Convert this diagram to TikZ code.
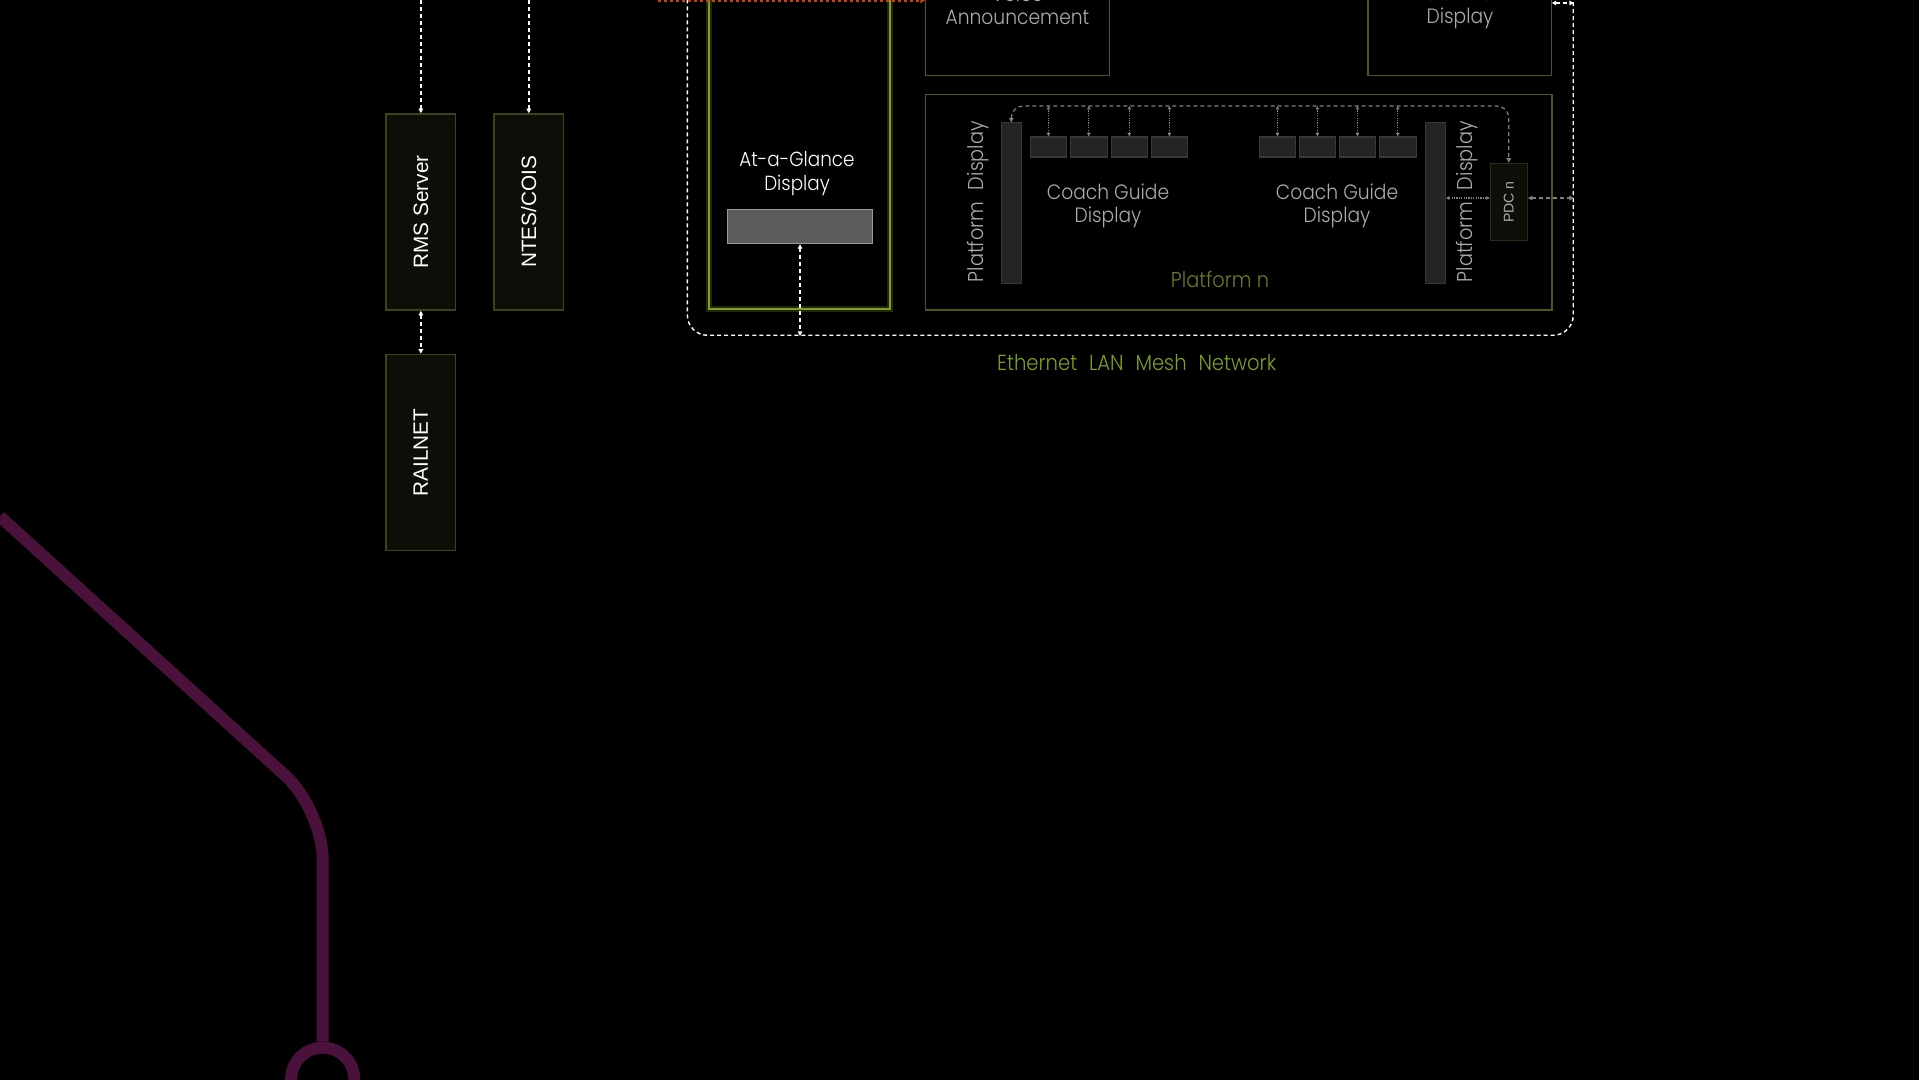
\documentclass[tikz,border=0pt]{standalone}
\usepackage{fontspec}
\setmainfont{Poppins}[UprightFont=* Light, FakeStretch=0.9]
\newfontfamily\boxfont{Liberation Sans}
\newfontfamily\widefont{Poppins}[UprightFont=* Light, FakeStretch=0.9, WordSpace=2.2]
\usetikzlibrary{arrows.meta,positioning}

\definecolor{sysfill}{RGB}{13,14,8}
\definecolor{sysedge}{RGB}{58,69,18}
\definecolor{paneledge}{RGB}{74,92,20}
\definecolor{glance}{RGB}{128,160,35}
\definecolor{labelgray}{RGB}{172,172,172}
\definecolor{platgreen}{RGB}{107,125,31}
\definecolor{langreen}{RGB}{125,160,32}
\definecolor{metro}{RGB}{74,18,58}
\definecolor{feedorange}{RGB}{200,64,16}

\tikzset{
  tip/.tip={Triangle[length=0.045cm,width=0.045cm]},
  smalltip/.tip={Triangle[length=0.035cm,width=0.035cm]},
  sysbox/.style={draw=sysedge, fill=sysfill, line width=0.4pt, inner sep=0pt,
    minimum width=0.697cm, minimum height=1.96cm, text=white,
    font=\boxfont\fontsize{5.9}{7}\selectfont},
  panel/.style={draw=paneledge, line width=0.4pt, inner sep=0pt},
  glancebox/.style={draw=glance, line width=0.6pt, inner sep=0pt,
    preaction={draw=glance, opacity=0.25, line width=1.8pt}},
  agbar/.style={draw=gray!80, fill=black!64, line width=0.3pt, inner sep=0pt,
    minimum width=1.454cm, minimum height=0.344cm},
  pdbar/.style={draw=black!78, fill=black!86, line width=0.3pt, inner sep=0pt,
    minimum width=0.2cm, minimum height=1.603cm},
  cgbox/.style={draw=black!78, fill=black!86, line width=0.3pt, inner sep=0pt,
    minimum width=0.365cm, minimum height=0.2cm},
  pdcbox/.style={draw=sysedge!70!black, fill=sysfill, line width=0.3pt, inner sep=0pt,
    minimum width=0.37cm, minimum height=0.774cm, text=labelgray,
    font=\boxfont\fontsize{4}{4.5}\selectfont},
  whitelabel/.style={text=white, align=center, inner sep=0pt,
    font=\fontsize{5.8}{6.6}\selectfont},
  graylabel/.style={text=labelgray, align=center, inner sep=0pt,
    font=\fontsize{5.9}{6.6}\selectfont},
  widelabel/.style={text=labelgray, inner sep=0pt,
    font=\widefont\fontsize{6.1}{6.6}\selectfont},
  lan/.style={draw=white, line width=0.4pt, dash pattern=on 0.04cm off 0.03cm,
    rounded corners=0.2cm, inner sep=0pt},
  wire/.style={draw=white, line width=0.4pt, dash pattern=on 0.04cm off 0.03cm, tip-tip},
  feed/.style={draw=feedorange, line width=0.5pt, dash pattern=on 0.03cm off 0.03cm, -tip},
  bus/.style={draw=gray, line width=0.35pt, dash pattern=on 0.04cm off 0.03cm, tip-tip},
  cglink/.style={draw=gray, line width=0.35pt, dash pattern=on 0.012cm off 0.012cm,
    smalltip-smalltip},
  metroline/.style={draw=metro, line width=3.4pt, rounded corners=0.5cm},
  metrostop/.style={circle, draw=metro, line width=3.4pt, minimum size=0.63cm, inner sep=0pt}
}

\begin{document}
\begin{tikzpicture}[x=0.01cm,y=-0.01cm]
  \fill[black] (0,0) rectangle (1919,1080);
  \useasboundingbox (0,0) rectangle (1919,1080);
  \clip (0,0) rectangle (1919,1080);

  %metro line
  \node[metrostop] (stop) at (322.7,1079.2) {};
  \draw[metroline] (0,516.5) -- (322.7,809.6) -- (stop.north);

  %back end servers
  \node[sysbox] (rms) at (420.85,212) {\rotatebox{90}{RMS Server}};
  \node[sysbox] (ntes) at (528.8,212) {\rotatebox{90}{NTES/COIS}};
  \node[sysbox] (railnet) at (420.85,452.5) {\rotatebox{90}{RAILNET}};
  \coordinate (rmsin) at (420.85,-20);
  \coordinate (ntesin) at (528.8,-20);
  \draw[wire, tip-] (rms.north) -- (rmsin);
  \draw[wire, tip-] (ntes.north) -- (ntesin);
  \draw[wire] (rms.south) -- (railnet.north);

  %mesh network
  \node[lan, minimum width=8.853cm, minimum height=3.96cm, anchor=south west]
    (lan) at (686.7,336) {};
  \node[text=langreen, inner sep=0pt, font=\widefont\fontsize{6.2}{7}\selectfont]
    (lantxt) at (1136.7,362.7) {Ethernet LAN Mesh Network};

  %at-a-glance display
  \node[glancebox, minimum width=1.807cm, minimum height=4.2cm, anchor=south]
    (glance) at (799.65,310) {};
  \node[whitelabel] (glancetxt) at (797,173.5) {At-a-Glance\\Display};
  \node[agbar] (agbar) at (800,226.5) {};
  \draw[wire] (agbar.south) -- (agbar.south |- lan.south);

  %voice and television
  \node[panel, minimum width=1.836cm, minimum height=2cm, anchor=south]
    (voice) at (1017.5,76) {};
  \node[graylabel] (voicetxt) at (1017.5,5) {Voice\\Announcement};
  \node[panel, minimum width=1.837cm, minimum height=2cm, anchor=south]
    (tv) at (1459.85,76) {};
  \node[graylabel] (tvtxt) at (1460,7) {Television\\Display};
  \coordinate (feedin) at (658,0.8);
  \draw[feed] (feedin) -- (voice.west |- feedin);
  \coordinate (tvport) at (1551.7,3);
  \draw[wire] (tvport) -- (tvport -| lan.east);

  %platform n
  \node[panel, minimum width=6.26cm, minimum height=2.155cm]
    (platform) at (1238.7,202.25) {};
  \node[pdbar] (lpd) at (1011.3,203.15) {};
  \node[pdbar] (rpd) at (1435.3,203.15) {};
  \node[widelabel, rotate=90] (lpdtxt) at (978.3,201.7) {Platform Display};
  \node[widelabel, rotate=90] (rpdtxt) at (1467.3,201.7) {Platform Display};
  \foreach \i/\x in {1/1048.5,2/1088.8,3/1129.3,4/1169.4,
                     5/1277.5,6/1317.4,7/1357.5,8/1397.8}
    \node[cgbox] (cg\i) at (\x,147) {};
  \node[graylabel] (cgtxtl) at (1108,205.5) {Coach Guide\\Display};
  \node[graylabel] (cgtxtr) at (1337,205.5) {Coach Guide\\Display};
  \node[pdcbox] (pdc) at (1508.8,202) {\rotatebox{90}{PDC n}};
  \node[text=platgreen, inner sep=0pt, font=\fontsize{6.1}{7}\selectfont]
    (plattxt) at (1220,279) {Platform n};
  \coordinate (bus) at (1200,106);
  \draw[bus, rounded corners=0.12cm] (lpd.north) -- (lpd.north |- bus)
    -- (pdc.north |- bus) -- (pdc.north);
  \foreach \i in {1,...,8}
    \draw[cglink] (cg\i.north) -- (cg\i.north |- bus);
  \draw[cglink] ([yshift=0.04cm]rpd.east |- pdc.west) -- ([yshift=0.04cm]pdc.west);
  \draw[bus] ([yshift=0.04cm]pdc.east) -- ([yshift=0.04cm]pdc.east -| lan.east);
\end{tikzpicture}
\end{document}
